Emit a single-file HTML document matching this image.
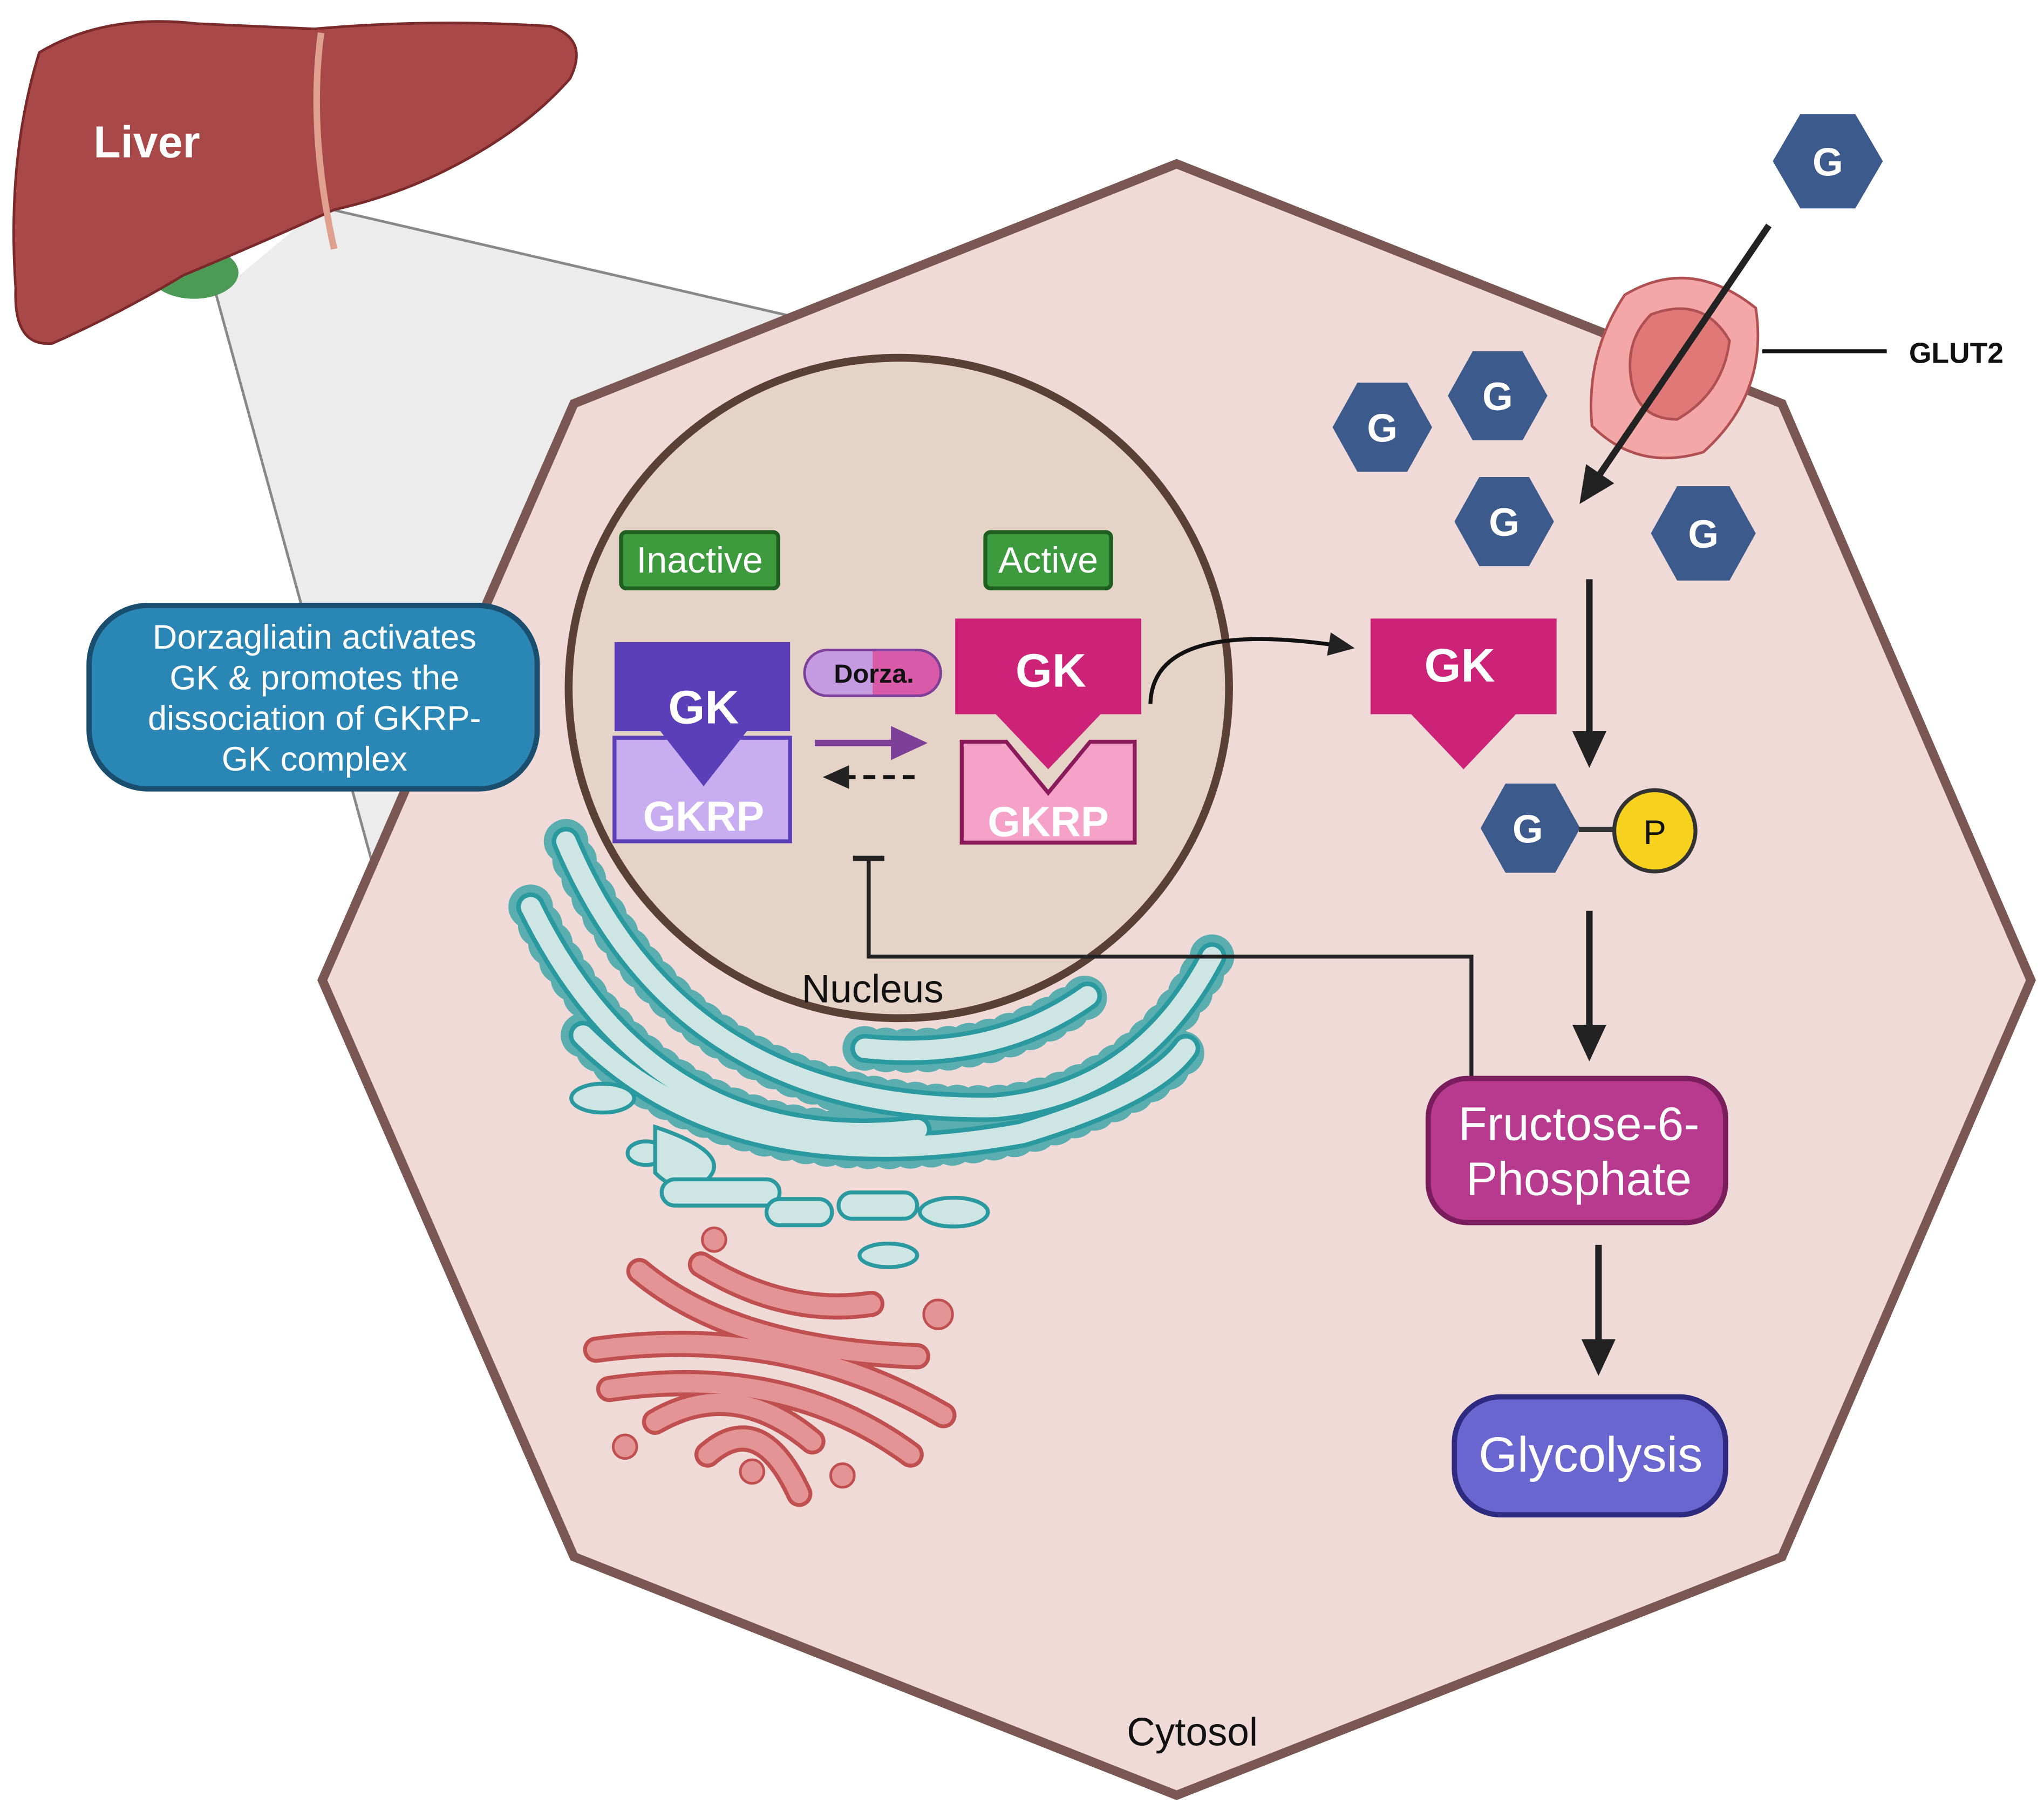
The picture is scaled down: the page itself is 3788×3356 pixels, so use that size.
<!DOCTYPE html>
<html><head><meta charset="utf-8"><style>
html,body{margin:0;padding:0;background:#fff}
svg{display:block}
text{font-family:"Liberation Sans",sans-serif}
</style></head><body>
<svg width="3788" height="3356" viewBox="0 0 1560 1382" xmlns="http://www.w3.org/2000/svg">
<defs>
<marker id="ah2" markerWidth="28" markerHeight="26" refX="20" refY="13" orient="auto" markerUnits="userSpaceOnUse">
<path d="M0,0 L28,13 L0,26 z" fill="#222"/></marker>
<marker id="ahs" markerWidth="20" markerHeight="18" refX="16" refY="9" orient="auto" markerUnits="userSpaceOnUse">
<path d="M0,0 L20,9 L0,18 z" fill="#222"/></marker>
<marker id="ahp" markerWidth="28" markerHeight="26" refX="20" refY="13" orient="auto" markerUnits="userSpaceOnUse">
<path d="M0,0 L28,13 L0,26 z" fill="#7e3f98"/></marker>
</defs>
<rect width="1560" height="1382" fill="#fff"/>
<polygon points="245,158 620,245 290,680 165,225" fill="#ececec"/>
<line x1="245" y1="158" x2="620" y2="245" stroke="#888" stroke-width="2"/>
<line x1="165" y1="225" x2="290" y2="680" stroke="#888" stroke-width="2"/>
<polygon points="898,125 1360,308 1550,748 1360,1188 898,1370 438,1188 246,748 438,308" fill="#efdad7" stroke="#7a5752" stroke-width="7"/>
<!-- liver -->
<ellipse cx="148" cy="208" rx="34" ry="20" fill="#4d9a56"/>
<path d="M30,40 Q80,10 150,18 L240,22 Q330,14 420,20 Q450,30 435,60 Q400,100 340,130 Q300,150 255,160 Q200,185 140,210 Q90,240 40,262 Q10,265 12,220 Q5,120 30,40 z" fill="#a84848" stroke="#7a2a2a" stroke-width="2"/>
<path d="M245,25 Q235,100 255,190" stroke="#e0a090" stroke-width="5" fill="none"/>
<text x="112" y="120" font-size="34" font-weight="bold" fill="#fff" text-anchor="middle">Liver</text>
<circle cx="686" cy="525" r="252" fill="#e4d3c6" stroke="#5a4035" stroke-width="6"/>
<text x="666" y="765" font-size="30" fill="#111" text-anchor="middle">Nucleus</text>
<!-- ER -->
<g fill="none" stroke-linecap="round">
<g stroke="#5aaeb0" stroke-width="34" stroke-dasharray="0,16">
<path d="M432,642 Q520,850 760,845 Q870,835 925,730"/>
<path d="M405,692 Q500,885 700,862"/>
<path d="M445,790 Q560,905 780,865 Q880,835 905,800"/>
<path d="M660,800 Q760,810 830,760"/>
</g>
<g stroke="#2a9aa0" stroke-width="22">
<path d="M432,642 Q520,850 760,845 Q870,835 925,730"/>
<path d="M405,692 Q500,885 700,862"/>
<path d="M445,790 Q560,905 780,865 Q880,835 905,800"/>
<path d="M660,800 Q760,810 830,760"/>
</g>
<g stroke="#cde6e4" stroke-width="15">
<path d="M432,642 Q520,850 760,845 Q870,835 925,730"/>
<path d="M405,692 Q500,885 700,862"/>
<path d="M445,790 Q560,905 780,865 Q880,835 905,800"/>
<path d="M660,800 Q760,810 830,760"/>
</g>
</g>
<g fill="#cde6e4" stroke="#2a9aa0" stroke-width="3">
<ellipse cx="460" cy="838" rx="24" ry="11"/>
<ellipse cx="493" cy="880" rx="14" ry="9"/>
<path d="M500,860 Q560,880 540,900 Q520,915 500,895 z"/>
<rect x="505" y="900" width="90" height="20" rx="10"/>
<rect x="585" y="915" width="50" height="20" rx="10"/>
<rect x="640" y="910" width="60" height="20" rx="10"/>
<ellipse cx="728" cy="925" rx="26" ry="11"/>
<ellipse cx="678" cy="958" rx="22" ry="9"/>
</g>
<!-- Golgi -->
<g fill="none" stroke-linecap="round">
<g stroke="#c05050" stroke-width="20">
<path d="M535,965 Q600,1005 665,995"/>
<path d="M488,970 Q560,1030 700,1035"/>
<path d="M455,1030 Q600,1010 720,1080"/>
<path d="M465,1060 Q600,1040 695,1110"/>
<path d="M500,1085 Q560,1050 620,1100"/>
<path d="M540,1110 Q580,1075 610,1140"/>
</g>
<g stroke="#e49494" stroke-width="14">
<path d="M535,965 Q600,1005 665,995"/>
<path d="M488,970 Q560,1030 700,1035"/>
<path d="M455,1030 Q600,1010 720,1080"/>
<path d="M465,1060 Q600,1040 695,1110"/>
<path d="M500,1085 Q560,1050 620,1100"/>
<path d="M540,1110 Q580,1075 610,1140"/>
</g>
</g>
<g fill="#e49494" stroke="#c05050" stroke-width="2">
<circle cx="545" cy="946" r="9"/><circle cx="716" cy="1003" r="11"/>
<circle cx="477" cy="1104" r="9"/><circle cx="574" cy="1123" r="9"/><circle cx="643" cy="1126" r="9"/>
</g>
<rect x="474" y="406" width="120" height="43" rx="4" fill="#3d9a3d" stroke="#1e5e1e" stroke-width="3"/>
<text x="534" y="437" font-size="28" fill="#fff" text-anchor="middle">Inactive</text>
<rect x="752" y="406" width="96" height="43" rx="4" fill="#3d9a3d" stroke="#1e5e1e" stroke-width="3"/>
<text x="800" y="437" font-size="28" fill="#fff" text-anchor="middle">Active</text>
<path d="M469,563 L603,563 L603,642 L469,642 z" fill="#c8aef0" stroke="#5a3fb8" stroke-width="3"/>
<path d="M469,490 L603,490 L603,558 L570,558 L537,600 L504,558 L469,558 z" fill="#5a3fb8"/>
<text x="537" y="552" font-size="36" font-weight="bold" fill="#fff" text-anchor="middle">GK</text>
<text x="537" y="634" font-size="32" font-weight="bold" fill="#fff" text-anchor="middle">GKRP</text>
<path d="M632,496 L666,496 L666,531 L632,531 A17.5,17.5 0 0 1 632,496 z" fill="#c49be0"/>
<path d="M666,496 L700,496 A17.5,17.5 0 0 1 700,531 L666,531 z" fill="#d85aa8"/>
<rect x="614" y="496" width="104" height="35" rx="17.5" fill="none" stroke="#7e3f98" stroke-width="2"/>
<text x="667" y="521" font-size="20" font-weight="bold" fill="#111" text-anchor="middle">Dorza.</text>
<line x1="622" y1="567" x2="700" y2="567" stroke="#7e3f98" stroke-width="5" marker-end="url(#ahp)"/>
<line x1="698" y1="593" x2="632" y2="593" stroke="#111" stroke-width="3" stroke-dasharray="9,6" marker-end="url(#ahs)"/>
<path d="M734,566 L768,566 L800,605 L832,566 L866,566 L866,643 L734,643 z" fill="#f6a1c8" stroke="#8a1a5a" stroke-width="3"/>
<path d="M729,472 L871,472 L871,545 L840,545 L800,587 L760,545 L729,545 z" fill="#cc2277"/>
<text x="802" y="524" font-size="36" font-weight="bold" fill="#fff" text-anchor="middle">GK</text>
<text x="800" y="638" font-size="32" font-weight="bold" fill="#fff" text-anchor="middle">GKRP</text>
<path d="M878,537 Q880,470 1030,494" fill="none" stroke="#111" stroke-width="3" marker-end="url(#ahs)"/>
<path d="M1046,472 L1188,472 L1188,545 L1157,545 L1117,587 L1077,545 L1046,545 z" fill="#cc2277"/>
<text x="1114" y="520" font-size="36" font-weight="bold" fill="#fff" text-anchor="middle">GK</text>
<path d="M1240,225 Q1290,195 1340,235 Q1350,300 1300,345 Q1250,360 1215,325 Q1210,270 1240,225 z" fill="#f4a7a7" stroke="#b05050" stroke-width="2"/>
<path d="M1260,240 Q1300,225 1320,260 Q1315,300 1280,320 Q1250,320 1245,290 Q1240,260 1260,240 z" fill="#e07878" stroke="#b05050" stroke-width="2"/>
<line x1="1345" y1="268" x2="1440" y2="268" stroke="#111" stroke-width="3"/>
<text x="1457" y="277" font-size="22" font-weight="bold" fill="#111">GLUT2</text>
<line x1="1350" y1="172" x2="1210" y2="378" stroke="#222" stroke-width="5" marker-end="url(#ah2)"/>
<g fill="#3c5a8c">
<polygon points="1353,123 1374,87 1416,87 1437,123 1416,159 1374,159"/>
<polygon points="1017,326 1036,292 1074,292 1093,326 1074,360 1036,360"/>
<polygon points="1105,302 1124,268 1162,268 1181,302 1162,336 1124,336"/>
<polygon points="1110,398 1129,364 1167,364 1186,398 1167,432 1129,432"/>
<polygon points="1260,407 1280,371 1320,371 1340,407 1320,443 1280,443"/>
<polygon points="1130,632 1149,598 1187,598 1206,632 1187,666 1149,666"/>
</g>
<g font-size="30" font-weight="bold" fill="#fff" text-anchor="middle">
<text x="1395" y="134">G</text><text x="1055" y="337">G</text><text x="1143" y="313">G</text>
<text x="1148" y="409">G</text><text x="1300" y="418">G</text><text x="1166" y="643">G</text>
</g>
<line x1="1205" y1="633" x2="1233" y2="633" stroke="#333" stroke-width="4"/>
<circle cx="1263" cy="634" r="31" fill="#f6d21f" stroke="#333" stroke-width="3"/>
<text x="1263" y="644" font-size="26" fill="#111" text-anchor="middle">P</text>
<line x1="1213" y1="442" x2="1213" y2="578" stroke="#222" stroke-width="5" marker-end="url(#ah2)"/>
<line x1="1213" y1="695" x2="1213" y2="802" stroke="#222" stroke-width="5" marker-end="url(#ah2)"/>
<line x1="1220" y1="950" x2="1220" y2="1042" stroke="#222" stroke-width="5" marker-end="url(#ah2)"/>
<polyline points="1123,823 1123,730 663,730 663,655" fill="none" stroke="#222" stroke-width="3"/>
<line x1="651" y1="655" x2="675" y2="655" stroke="#222" stroke-width="4"/>
<rect x="1090" y="823" width="227" height="110" rx="30" fill="#b83a8e" stroke="#7a1d5c" stroke-width="4"/>
<text x="1205" y="870" font-size="36" fill="#fff" text-anchor="middle">Fructose-6-</text>
<text x="1205" y="912" font-size="36" fill="#fff" text-anchor="middle">Phosphate</text>
<rect x="1110" y="1066" width="207" height="90" rx="35" fill="#6a66d0" stroke="#2e2a80" stroke-width="4"/>
<text x="1214" y="1123" font-size="38" fill="#fff" text-anchor="middle">Glycolysis</text>
<rect x="68" y="462" width="342" height="140" rx="45" fill="#2a86b4" stroke="#1a4e6e" stroke-width="4"/>
<g font-size="26" fill="#fff" text-anchor="middle">
<text x="240" y="495">Dorzagliatin activates</text>
<text x="240" y="526">GK &amp; promotes the</text>
<text x="240" y="557">dissociation of GKRP-</text>
<text x="240" y="588">GK complex</text>
</g>
<text x="910" y="1332" font-size="30" fill="#111" text-anchor="middle">Cytosol</text>
</svg>
</body></html>
